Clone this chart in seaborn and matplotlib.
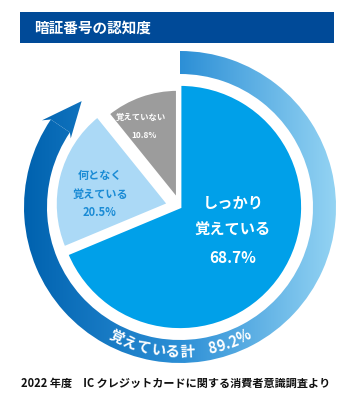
import matplotlib
matplotlib.use("Agg")
import matplotlib.pyplot as plt
import numpy as np
import seaborn as sns
from matplotlib.colors import LinearSegmentedColormap
from matplotlib.patches import Polygon, Rectangle, Wedge

title = "暗証番号の認知度"
source = "2022 年度　IC クレジットカードに関する消費者意識調査より"
categories = ["しっかり\n覚えている", "何となく\n覚えている", "覚えていない"]
shares = [68.7, 20.5, 10.8]
total_label = "覚えている計"

sns.set_theme(style="white")
plt.rcParams["font.family"] = ["Noto Sans CJK JP", "DejaVu Sans"]

W, H = 352, 404
fig = plt.figure(figsize=(W / 100, H / 100), dpi=100)
ax = fig.add_axes([0, 0, 1, 1])


def py(y):
    # pixel row -> data y
    return H - y


cx, cy = 180, py(207)

# pie: the two smaller slices are pulled out and drawn a bit smaller
pie_colors = ["#00a0e9", "#abd9f6", "#9c9c9c"]
wedges, _ = ax.pie(shares, colors=pie_colors, startangle=90, counterclock=False,
                   radius=122.5, center=(cx, cy), explode=[0, 12, 8],
                   wedgeprops=dict(edgecolor="white", linewidth=2))
wedges[1].set_radius(113)
wedges[2].set_radius(110)


def polar(a, r):
    # a: degrees clockwise from 12 o'clock
    t = np.deg2rad(a)
    return cx + r * np.sin(t), cy + r * np.cos(t)


# outer ring "覚えている計" with arrow head
aware = shares[0] + shares[1]
tip = 360 * aware / 100 - 4
base = tip - 13
r_in, r_out = 133, 156
r_mid = (r_in + r_out) / 2
ring = Wedge((cx, cy), r_out, 90 - base, 90, width=r_out - r_in,
             facecolor="none", edgecolor="none")
head = Polygon([polar(tip, r_mid), polar(base - 2, r_out + 7), polar(base, r_out),
                polar(base, r_in), polar(base - 2, r_in - 4)],
               closed=True, facecolor="none", edgecolor="none")
ax.add_patch(ring)
ax.add_patch(head)

cmap = LinearSegmentedColormap.from_list("ring", ["#0062af", "#2c8fd6", "#93d3f3"])
grad = np.linspace(0, 1, 256).reshape(1, -1)
for patch in (ring, head):
    im = ax.imshow(grad, cmap=cmap, aspect="auto", interpolation="bicubic",
                   extent=[cx - r_out, cx + r_out, cy - r_out - 10, cy + r_out + 10],
                   zorder=1)
    im.set_clip_path(patch)

# curved text along the bottom of the ring
ring_text = f"{total_label}  {aware:.1f}%"
renderer = fig.canvas.get_renderer()
chars = []
for ch in ring_text:
    t = ax.text(0, 0, ch, fontsize=10.5, fontweight="bold", color="white",
                ha="center", va="center", rotation_mode="anchor", zorder=3)
    w = t.get_window_extent(renderer).width
    if ch == " ":
        w = 7
    chars.append((t, w))
total_w = sum(w for _, w in chars)
r_txt = r_mid
pos = -total_w / 2
for t, w in chars:
    phi = -90 + np.rad2deg((pos + w / 2) / r_txt)
    t.set_position((cx + r_txt * np.cos(np.deg2rad(phi)),
                    cy + r_txt * np.sin(np.deg2rad(phi))))
    t.set_rotation(phi + 90)
    pos += w

# slice labels
main_lines = categories[0].split("\n") + [f"{shares[0]}%"]
for line, y in zip(main_lines, [203, 230, 258]):
    ax.text(233, py(y), line, fontsize=11, fontweight="bold", color="white",
            ha="center", va="center", zorder=3)

mid_lines = categories[1].split("\n") + [f"{shares[1]}%"]
for line, y in zip(mid_lines, [175, 194, 213]):
    ax.text(100, py(y), line, fontsize=8, fontweight="bold", color="#1a8bd5",
            ha="center", va="center", zorder=3)

low_lines = [categories[2], f"{shares[2]}%"]
for line, x, y in zip(low_lines, [141, 144], [117, 135]):
    ax.text(x, py(y), line, fontsize=6, fontweight="bold", color="white",
            ha="center", va="center", zorder=3)

# title bar and source
ax.add_patch(Rectangle((20, py(43)), 314, 31, facecolor="#004a98",
                       edgecolor="none", zorder=2))
ax.text(34, py(27.5), title, fontsize=10.5, fontweight="bold", color="white",
        ha="left", va="center", zorder=3)
ax.text(176, py(383), source, fontsize=8, fontweight="bold", color="#111111",
        ha="center", va="center", zorder=3)

ax.set_xlim(0, W)
ax.set_ylim(0, H)
ax.set_aspect("auto")
ax.axis("off")

fig.savefig("out.png", dpi=100)
